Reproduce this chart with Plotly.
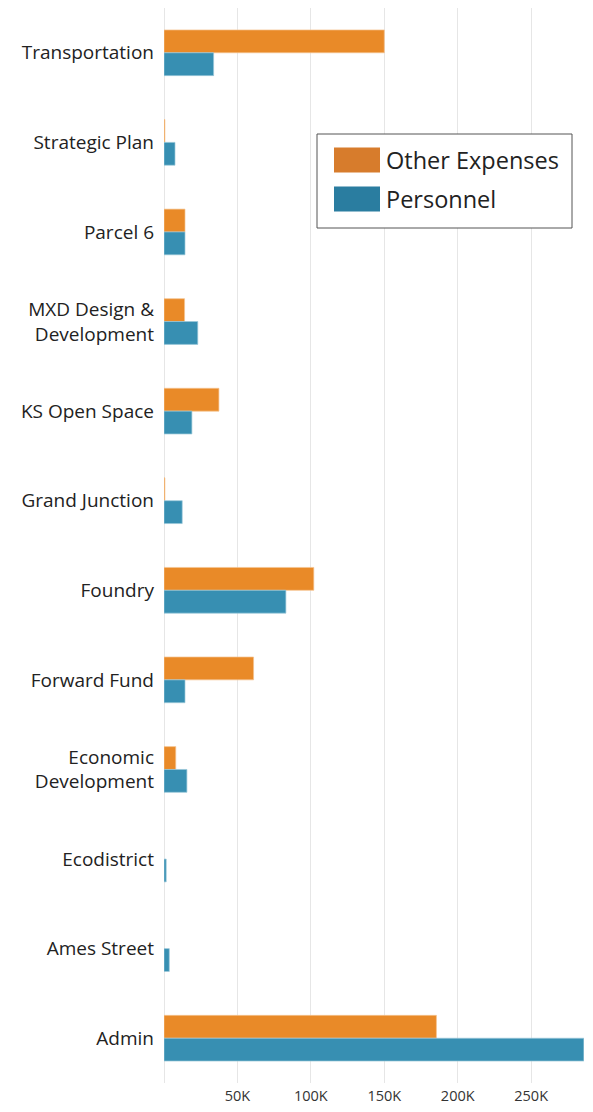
import plotly.graph_objects as go

categories = ["Transportation", "Strategic Plan", "Parcel 6", "MXD Design &<br>Development",
              "KS Open Space", "Grand Junction", "Foundry", "Forward Fund",
              "Economic<br>Development", "Ecodistrict", "Ames Street", "Admin"]
other_expenses = [150000, 600, 14300, 14000, 37400, 600, 102000, 61000, 8000, 0, 0, 185500]
personnel = [33800, 7500, 14300, 23000, 19000, 12400, 83000, 14300, 15600, 1500, 3600, 285900]
tick_vals = [50000, 100000, 150000, 200000, 250000]
tick_text = ["50K", "100K", "150K", "200K", "250K"]

font = "Open Sans"
# page body has an 8px margin; figure spans page x 8..585, y 8..1104
W, H = 577, 1096
ML, MR, MT, MB = 156, 1, 0, 21
OFF = 8

def outline(vals):
    return [0 if v == 0 else 0.7 for v in vals]

fig = go.Figure()
fig.add_trace(go.Bar(y=categories, x=other_expenses, orientation="h", name="Other Expenses",
                     marker=dict(color="#E98A28",
                                 line=dict(color="#F5C38F", width=outline(other_expenses)))))
fig.add_trace(go.Bar(y=categories, x=personnel, orientation="h", name="Personnel",
                     marker=dict(color="#378FB2",
                                 line=dict(color="#9CC8DA", width=outline(personnel)))))

fig.update_layout(
    width=W, height=H,
    margin=dict(l=ML, r=MR, t=MT, b=MB),
    barmode="group", bargap=0.49, bargroupgap=0,
    plot_bgcolor="white", paper_bgcolor="white",
    showlegend=False,
    font=dict(family=font, color="#222"),
)
fig.update_yaxes(autorange="reversed", tickfont=dict(size=19, color="#222"),
                 ticks="", showgrid=False, ticklabelstandoff=9)
fig.update_xaxes(range=[0, 286000], tickvals=tick_vals, ticktext=tick_text,
                 tickfont=dict(size=14.5, color="#333"), showgrid=True, gridcolor="#E6E6E6",
                 gridwidth=1, zeroline=True, zerolinecolor="#E6E6E6", zerolinewidth=1,
                 ticks="", ticklabelstandoff=2)

PW, PH = W - ML - MR, H - MT - MB
def fx(x):  # page x -> paper
    return (x - OFF - ML) / PW
def fy(y):  # page y -> paper
    return 1 - (y - OFF - MT) / PH

fig.add_shape(type="rect", xref="paper", yref="paper",
              x0=fx(317), x1=fx(572), y0=fy(134), y1=fy(228),
              line=dict(color="#555", width=1), fillcolor="white", layer="above")
items = [("Other Expenses", "#D77C2C", 160), ("Personnel", "#2A7DA0", 199)]
for label, col, cy in items:
    fig.add_shape(type="rect", xref="paper", yref="paper",
                  x0=fx(334), x1=fx(380), y0=fy(cy - 12.5), y1=fy(cy + 12.5),
                  line=dict(width=0), fillcolor=col, layer="above")
    fig.add_annotation(xref="paper", yref="paper", x=fx(384), y=fy(cy),
                       text=label, showarrow=False, xanchor="left", yanchor="middle",
                       font=dict(size=23.5, color="#222", family=font))

fig.write_html("out.html")
